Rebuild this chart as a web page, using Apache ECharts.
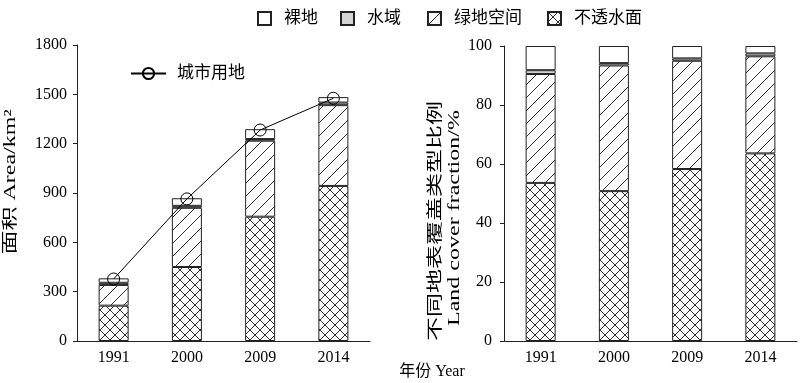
<!DOCTYPE html>
<html><head><meta charset="utf-8">
<script src="https://cdn.jsdelivr.net/npm/echarts@6/dist/echarts.min.js"></script>
<style>html,body{margin:0;padding:0;background:#fff}#c{width:800px;height:383px}</style>
</head><body><div id="c"></div>
<script>
const years = ['1991', '2000', '2009', '2014'];
const areaImperv = [215, 450, 756, 943];
const areaGreen = [126, 360, 462, 491];
const areaWater = [13, 12, 10, 16];
const areaBare = [27, 46, 60, 33];
const urbanLand = [377, 864, 1283, 1476];
const fracImperv = [53.6, 50.8, 58.3, 63.6];
const fracGreen = [36.9, 42.6, 36.7, 32.9];
const fracWater = [1.3, 0.8, 0.8, 1.0];
const fracBare = [8.2, 5.8, 4.2, 2.5];
const areaTicks = [0, 1800, 300];
const fracTicks = [0, 100, 20];

const FONT = "'Liberation Serif','Times New Roman','Noto Sans CJK SC',serif";
const INK = '#222';

function makeHatch() {
  const s = 13, c = document.createElement('canvas');
  c.width = s; c.height = s;
  const g = c.getContext('2d');
  g.fillStyle = '#fff'; g.fillRect(0, 0, s, s);
  g.strokeStyle = '#333'; g.lineWidth = 1;
  g.beginPath();
  g.moveTo(-2, s + 2); g.lineTo(s + 2, -2);
  g.moveTo(-2, 2); g.lineTo(2, -2);
  g.moveTo(s - 2, s + 2); g.lineTo(s + 2, s - 2);
  g.stroke();
  return c;
}
function makeCross() {
  const s = 10, c = document.createElement('canvas');
  c.width = s; c.height = s;
  const g = c.getContext('2d');
  g.fillStyle = '#fff'; g.fillRect(0, 0, s, s);
  g.strokeStyle = '#333'; g.lineWidth = 1;
  g.beginPath();
  g.moveTo(-1, -1); g.lineTo(s + 1, s + 1);
  g.moveTo(-1, s + 1); g.lineTo(s + 1, -1);
  g.stroke();
  return c;
}
const hatch = { image: makeHatch(), repeat: 'repeat' };
const cross = { image: makeCross(), repeat: 'repeat' };

const styles = {
  '不透水面': { color: cross, borderColor: INK, borderWidth: 1 },
  '绿地空间': { color: hatch, borderColor: INK, borderWidth: 1 },
  '水域': { color: '#d4d4d4', borderColor: INK, borderWidth: 1 },
  '裸地': { color: '#fff', borderColor: INK, borderWidth: 1 }
};

function bar(name, data, idx) {
  return {
    type: 'bar', name: name, data: data, stack: 's' + idx,
    xAxisIndex: idx, yAxisIndex: idx, barWidth: 30,
    itemStyle: styles[name], emphasis: { disabled: true }
  };
}

const axisLabel = { fontFamily: FONT, fontSize: 16, color: '#000', formatter: v => String(v) };
const axisLine = { show: true, lineStyle: { color: INK, width: 1 } };

const chart = echarts.init(document.getElementById('c'), null, { renderer: 'canvas' });
const legendItem = (name, left) => ({
  data: [{ name: name, icon: 'rect' }], left: left, top: 5, itemWidth: 13, itemHeight: 13,
  textStyle: { fontFamily: FONT, fontSize: 17, color: '#000', padding: [0, 0, 0, 8] },
  selectedMode: false
});
chart.setOption({
  animation: false,
  backgroundColor: '#fff',
  legend: [
    legendItem('裸地', 252),
    legendItem('水域', 335),
    legendItem('绿地空间', 422),
    legendItem('不透水面', 542),
    {
      data: ['城市用地'], left: 125, top: 60, itemWidth: 35, itemHeight: 14,
      textStyle: { fontFamily: FONT, fontSize: 17, color: '#000', padding: [0, 0, 0, 6] },
      selectedMode: false
    }
  ],
  grid: [
    { left: 77, right: 430, top: 45, bottom: 42 },
    { left: 504, right: 3, top: 46, bottom: 42 }
  ],
  xAxis: [0, 1].map(i => ({
    type: 'category', gridIndex: i, data: years,
    axisLine: axisLine, axisTick: { show: false },
    axisLabel: Object.assign({}, axisLabel, { margin: 9 })
  })),
  yAxis: [
    {
      type: 'value', gridIndex: 0, min: areaTicks[0], max: areaTicks[1], interval: areaTicks[2],
      axisLine: axisLine, axisTick: { show: true, inside: false, length: 4, lineStyle: { color: INK } },
      splitLine: { show: false }, axisLabel: Object.assign({}, axisLabel, { margin: 10 })
    },
    {
      type: 'value', gridIndex: 1, min: fracTicks[0], max: fracTicks[1], interval: fracTicks[2],
      axisLine: axisLine, axisTick: { show: true, inside: false, length: 4, lineStyle: { color: INK } },
      splitLine: { show: false }, axisLabel: Object.assign({}, axisLabel, { margin: 12 })
    }
  ],
  series: [
    bar('不透水面', areaImperv, 0),
    bar('绿地空间', areaGreen, 0),
    bar('水域', areaWater, 0),
    bar('裸地', areaBare, 0),
    bar('不透水面', fracImperv, 1),
    bar('绿地空间', fracGreen, 1),
    bar('水域', fracWater, 1),
    bar('裸地', fracBare, 1),
    {
      type: 'line', name: '城市用地', data: urbanLand, xAxisIndex: 0, yAxisIndex: 0,
      symbol: 'circle', symbolSize: 12, z: 5,
      lineStyle: { color: '#000', width: 1 },
      itemStyle: { color: 'rgba(255,255,255,0)', borderColor: '#000', borderWidth: 1 },
      emphasis: { disabled: true }
    }
  ],
  graphic: [
    { type: 'text', x: 11, y: 182, rotation: Math.PI / 2, scaleX: 1.5,
      style: { text: '面积 Area/km²', font: '16px ' + FONT, fill: '#000', align: 'center', verticalAlign: 'middle' } },
    { type: 'text', x: 436, y: 221, rotation: Math.PI / 2, scaleX: 1.5,
      style: { text: '不同地表覆盖类型比例', font: '16px ' + FONT, fill: '#000', align: 'center', verticalAlign: 'middle' } },
    { type: 'text', x: 455, y: 218, rotation: Math.PI / 2, scaleX: 1.5,
      style: { text: 'Land cover fraction/%', font: '16px ' + FONT, fill: '#000', align: 'center', verticalAlign: 'middle' } },
    { type: 'text', x: 432, y: 372,
      style: { text: '年份 Year', font: '16px ' + FONT, fill: '#000', align: 'center', verticalAlign: 'middle' } }
  ]
});
</script></body></html>
